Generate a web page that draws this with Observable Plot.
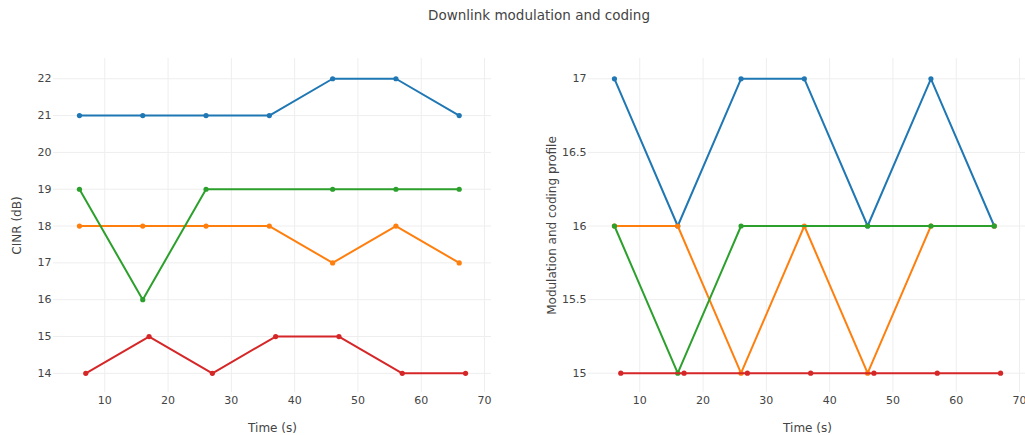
<!DOCTYPE html>
<html>
<head>
<meta charset="utf-8">
<script src="https://cdn.jsdelivr.net/npm/d3@7"></script>
<script src="https://cdn.jsdelivr.net/npm/@observablehq/plot@0.6"></script>
<style>
  html, body { margin: 0; padding: 0; background: #fff; }
  #wrap { position: relative; width: 1025px; height: 435px; overflow: hidden; background: #fff; }
  #title { position: absolute; top: 7px; left: 539px; transform: translateX(-50%); white-space: nowrap;
           font-family: "DejaVu Sans", sans-serif; font-size: 13.5px; color: #444; }
  .panel { position: absolute; top: 40px; width: 512px; height: 395px; }
  .panel svg { max-width: none !important; width: 512px; height: 395px; }
</style>
</head>
<body>
<div id="wrap">
  <div id="title">Downlink modulation and coding</div>
  <div id="left" class="panel" style="left:0px"></div>
  <div id="right" class="panel" style="left:535px"></div>
</div>
<script>
const seriesColors = ["#1f77b4", "#ff7f0e", "#2ca02c", "#d62728"];
const timesMain = [6, 16, 26, 36, 46, 56, 66];
const timesGreen = [6, 16, 26, 46, 56, 66];
const timesRed = [7, 17, 27, 37, 47, 57, 67];

const cinrBlue = [21, 21, 21, 21, 22, 22, 21];
const cinrOrange = [18, 18, 18, 18, 17, 18, 17];
const cinrGreen = [19, 16, 19, 19, 19, 19];
const cinrRed = [14, 15, 14, 15, 15, 14, 14];

const mcsBlue = [17, 16, 17, 17, 16, 17, 16];
const mcsOrange = [16, 16, 15, 16, 15, 16, 16];
const mcsGreen = [16, 15, 16, 16, 16, 16];
const mcsRed = [15, 15, 15, 15, 15, 15, 15];

const xTicks = [10, 20, 30, 40, 50, 60, 70];
const cinrTicks = [14, 15, 16, 17, 18, 19, 20, 21, 22];
const mcsTicks = [15, 15.5, 16, 16.5, 17];

const xLabel = "Time (s)";
const cinrLabel = "CINR (dB)";
const mcsLabel = "Modulation and coding profile";

function build(times, values) {
  return times.map((t, i) => ({t, v: values[i]}));
}

function panel(seriesList, yDomain, yTicks, yLabel) {
  const marks = [
    Plot.gridX(xTicks, {stroke: "#eeeeee", strokeOpacity: 1, strokeWidth: 1}),
    Plot.gridY(yTicks, {stroke: "#eeeeee", strokeOpacity: 1, strokeWidth: 1}),
    Plot.axisX(xTicks, {tickSize: 0, tickPadding: 4, fontSize: 11, label: null}),
    Plot.axisY(yTicks, {tickSize: 0, tickPadding: 2, fontSize: 11, label: null, tickFormat: d => String(d)}),
    Plot.text([xLabel], {frameAnchor: "bottom", dy: 36, text: d => d, fontSize: 12, fill: "#444", textAnchor: "middle", lineAnchor: "middle"}),
    Plot.text([yLabel], {frameAnchor: "left", dx: -36, rotate: -90, text: d => d, fontSize: 12, fill: "#444", textAnchor: "middle", lineAnchor: "middle"})
  ];
  seriesList.forEach((s, i) => {
    marks.push(Plot.line(s, {x: "t", y: "v", stroke: seriesColors[i], strokeWidth: 2}));
    marks.push(Plot.dot(s, {x: "t", y: "v", fill: seriesColors[i], r: 2.6, stroke: "none"}));
  });
  return Plot.plot({
    width: 512,
    height: 395,
    marginTop: 18,
    marginBottom: 43,
    marginLeft: 53,
    marginRight: 21,
    x: {domain: [1.9, 71.1]},
    y: {domain: yDomain},
    style: {color: "#444", fontFamily: "DejaVu Sans, sans-serif", fontSize: "11px", background: "transparent", overflow: "visible", maxWidth: "none"},
    marks
  });
}

const leftSeries = [
  build(timesMain, cinrBlue),
  build(timesMain, cinrOrange),
  build(timesGreen, cinrGreen),
  build(timesRed, cinrRed)
];
const rightSeries = [
  build(timesMain, mcsBlue),
  build(timesMain, mcsOrange),
  build(timesGreen, mcsGreen),
  build(timesRed, mcsRed)
];

document.getElementById("left").appendChild(panel(leftSeries, [13.48, 22.55], cinrTicks, cinrLabel));
document.getElementById("right").appendChild(panel(rightSeries, [14.869, 17.138], mcsTicks, mcsLabel));
</script>
</body>
</html>
